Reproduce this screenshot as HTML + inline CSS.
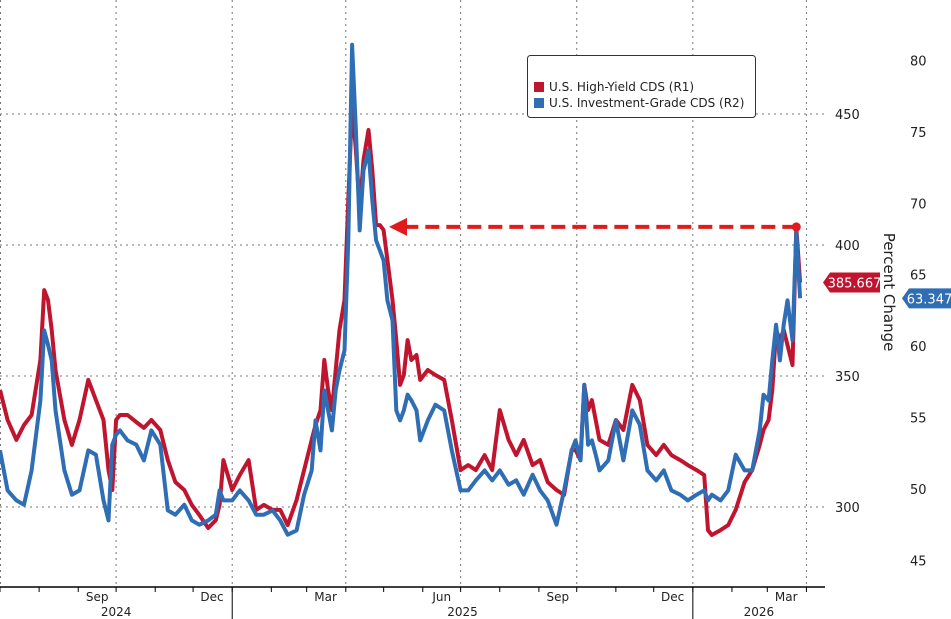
<!DOCTYPE html>
<html><head><meta charset="utf-8"><style>
html,body{margin:0;padding:0;background:#fff;}
svg{display:block;font-family:"DejaVu Sans","Liberation Sans",sans-serif;}
</style></head><body>
<svg id="chart" width="951" height="619" viewBox="0 0 951 619" xmlns="http://www.w3.org/2000/svg">
<g id="grid"></g>
<g id="xaxis"></g>
<g id="series"></g>
<g id="yaxis"></g>
<g>
<rect x="527.5" y="55.5" width="228" height="62" rx="3" fill="#fff" stroke="#333" stroke-width="1"/>
<rect x="534" y="82" width="10" height="10" fill="#c0152f"/>
<text x="549" y="91" font-size="12" fill="#222">U.S. High-Yield CDS (R1)</text>
<rect x="534" y="98" width="10" height="10" fill="#2f6db5"/>
<text x="549" y="107" font-size="12" fill="#222">U.S. Investment-Grade CDS (R2)</text>
</g>
<text transform="translate(884,292) rotate(90)" text-anchor="middle" font-size="15" fill="#222">Percent Change</text>
</svg>
<script>
const days=[0,6,13,19,25,32,35,38,41,44,51,57,63,70,76,82,86,89,92,95,101,108,114,120,127,133,139,146,152,158,165,171,174,177,184,190,197,203,209,216,222,228,235,241,247,250,254,257,260,263,266,269,273,276,279,282,285,288,292,295,298,301,304,307,311,314,317,320,323,326,330,333,339,345,352,358,365,371,377,384,390,396,403,409,415,422,428,434,441,447,453,456,460,463,466,469,472,475,482,488,494,501,507,513,520,526,532,539,545,552,558,561,564,571,577,583,590,596,602,605,609,612,615,618,621,624,628,631,634];
const hyValues=[344.7,333.2,325.6,331.3,335.1,356.1,382.8,379,367.6,352.3,333.2,323.7,333.2,348.5,340.8,333.2,314.1,306.5,333.2,335.1,335.1,332.4,330.2,333.2,329.4,317.9,309.5,306.5,300.8,296.9,292,295,300.8,317.9,306.5,312.2,317.9,298.9,300.8,298.9,298.9,293.1,302.7,314.1,325.6,331.3,337,356.1,344.7,337,352.3,367.6,379,417.2,453.4,436.3,413.4,432.4,443.9,428.6,407.6,407.6,405.7,394.3,379,363.7,346.6,350.4,363.7,356.1,358,348.5,352.3,350.4,348.5,333.2,314.1,316,314.1,319.8,314.1,337,325.6,319.8,325.6,316,317.9,309.5,306.5,304.6,321.8,321.8,317.9,346.6,337,340.8,333.2,325.6,323.7,333.2,329.4,346.6,340.8,323.7,319.8,323.7,319.8,317.9,316,314.1,312.2,291.2,289.3,291.2,293.1,298.9,309.5,314.1,323.7,329.4,333.2,344.7,367.6,363.7,367.6,361.8,354.2,406.9,385.667];
const igValues=[52.7,49.9,49.2,48.9,51.3,56.2,61.1,60.1,59.0,55.5,51.3,49.6,49.9,52.7,52.4,49.2,47.8,53.1,53.8,54.1,53.4,53.1,52.0,54.1,53.1,48.5,48.2,48.9,47.8,47.5,47.8,48.2,49.9,49.2,49.2,49.9,49.2,48.2,48.2,48.5,47.8,46.8,47.1,49.6,51.3,54.8,52.7,56.9,55.5,54.1,56.9,58.3,59.7,67.4,81.1,75.1,68.1,72.3,73.7,70.2,67.4,66.7,66.0,63.2,61.8,55.5,54.8,55.5,56.6,56.2,55.5,53.4,54.8,55.9,55.5,52.7,49.9,49.9,50.6,51.3,50.6,51.3,50.3,50.6,49.6,51.0,49.9,49.2,47.5,49.9,52.7,53.4,52.0,57.3,53.1,53.4,52.4,51.3,52.0,54.8,52.0,55.5,54.5,51.3,50.6,51.3,49.9,49.6,49.2,49.6,49.9,49.2,49.6,49.2,49.9,52.4,51.3,51.3,54.1,56.6,56.2,59.0,61.5,59.0,61.5,63.2,60.4,68.0,63.347];
const hyTicks=[300,350,400,450];
const igTicks=[45,50,55,60,65,70,75,80];
const monthLabels=["Sep","Dec","Mar","Jun","Sep","Dec","Mar"];
const yearLabels=["2024","2025","2026"];

const NS="http://www.w3.org/2000/svg";
const X0=0, PX_PER_DAY=1.262, BASE=Date.UTC(2024,6,1);
function xScale(d){return X0+d*PX_PER_DAY;}
function dayOf(y,m,dd){return (Date.UTC(y,m,dd||1)-BASE)/86400000;}
function yHY(v){return 507-(v-300)*131/50;}
function yIG(v){return 489-(v-50)*71.43/5;}
function mk(tag,attrs,parent){const e=document.createElementNS(NS,tag);for(const k in attrs)e.setAttribute(k,attrs[k]);parent.appendChild(e);return e;}
const grid=document.getElementById('grid'),xa=document.getElementById('xaxis'),ser=document.getElementById('series'),ya=document.getElementById('yaxis');
const AXIS_Y=587, RIGHT=825;

hyTicks.forEach(v=>{
  const l=mk('line',{x1:0,x2:RIGHT,y1:yHY(v),y2:yHY(v),stroke:'#777','stroke-width':1,'stroke-dasharray':'2,4'},grid);
  
  
  const t=mk('text',{x:835,y:yHY(v)+5,'font-size':13,fill:'#222'},ya);t.textContent=v;
  
  
});
igTicks.forEach(v=>{
  const t=mk('text',{x:910,y:yIG(v)+5,'font-size':13,fill:'#222'},ya);t.textContent=v;
  
  
});
const le=mk('line',{x1:0.5,x2:0.5,y1:0,y2:AXIS_Y,stroke:'#777','stroke-dasharray':'2,4'},grid);



for(let y=2024;y<=2026;y++)for(let m=0;m<12;m++){
  const x=xScale(dayOf(y,m));if(x<0||x>RIGHT)continue;
  const tk=mk('line',{x1:x,x2:x,y1:AXIS_Y,y2:AXIS_Y+5,stroke:'#000','stroke-width':1},xa);
  
  
}
// quarter gridlines (start of Oct/Jan/Apr/Jul), labels centered in the preceding month
const quarters=[[2024,8],[2024,11],[2025,2],[2025,5],[2025,8],[2025,11],[2026,2]];
quarters.forEach((q,i)=>{
  const x=xScale(dayOf(q[0],q[1]+1));
  const g=mk('line',{x1:x,x2:x,y1:0,y2:AXIS_Y,stroke:'#777','stroke-dasharray':'2,4'},grid);
  
  
  const t=mk('text',{x:xScale(dayOf(q[0],q[1],16)),y:601,'font-size':12,fill:'#222','text-anchor':'middle'},xa);t.textContent=monthLabels[i];
  
  
});
const yearPos=[[2024,6,6],[2025,0,12],[2026,0,12]];
yearLabels.forEach((lab,i)=>{
  const ys=yearPos[i];
  const xs=Math.max(0,xScale(dayOf(ys[0],ys[1]))), xe=Math.min(RIGHT,xScale(dayOf(ys[0],ys[1]+ys[2])));
  const t=mk('text',{x:(xs+xe)/2,y:616,'font-size':12,fill:'#222','text-anchor':'middle'},xa);t.textContent=lab;
  
  
  if(i>0){const s=mk('line',{x1:xs,x2:xs,y1:AXIS_Y,y2:619,stroke:'#000','stroke-width':1},xa);
    
    }
});
const ax=mk('line',{x1:0,x2:RIGHT,y1:AXIS_Y,y2:AXIS_Y,stroke:'#000','stroke-width':1.5},xa);



function path(vals,ys){return vals.map((v,i)=>(i?'L':'M')+xScale(days[i]).toFixed(1)+','+ys(v).toFixed(1)).join('');}
const hp=mk('path',{d:path(hyValues,yHY),fill:'none',stroke:'#c0152f','stroke-width':4,'stroke-linejoin':'round'},ser);


const ip=mk('path',{d:path(igValues,yIG),fill:'none',stroke:'#2f6db5','stroke-width':4,'stroke-linejoin':'round'},ser);



let mi=days.length-10;for(let i=days.length-10;i<days.length;i++)if(hyValues[i]>hyValues[mi])mi=i;
const ax2=xScale(days[mi]),ay=yHY(hyValues[mi]);
const dl=mk('line',{x1:ax2,y1:ay,x2:405,y2:ay,stroke:'#e01b1b','stroke-width':4,'stroke-dasharray':'14,7'},ser);


const ah=mk('polygon',{points:`389,${ay} 407,${ay-9} 407,${ay+9}`,fill:'#e01b1b'},ser);


const dot=mk('circle',{cx:ax2,cy:ay,r:4.5,fill:'#e01b1b'},ser);



function tag(x,w,y,col,txt,name){
  const g=mk('g',{},ya);
  
  
  mk('polygon',{points:`${x},${y} ${x+7},${y-10} ${x+w},${y-10} ${x+w},${y+10} ${x+7},${y+10}`,fill:col},g);
  const t=mk('text',{x:x+w/2+3,y:y+5,'font-size':13,fill:'#fff','text-anchor':'middle'},g);t.textContent=txt;
}
tag(823,57,yHY(hyValues[hyValues.length-1]),'#c0152f',hyValues[hyValues.length-1].toFixed(3),'hy-last-value-tag');
tag(902,49,yIG(igValues[igValues.length-1]),'#2f6db5',igValues[igValues.length-1].toFixed(3),'ig-last-value-tag');
</script>
</body></html>
